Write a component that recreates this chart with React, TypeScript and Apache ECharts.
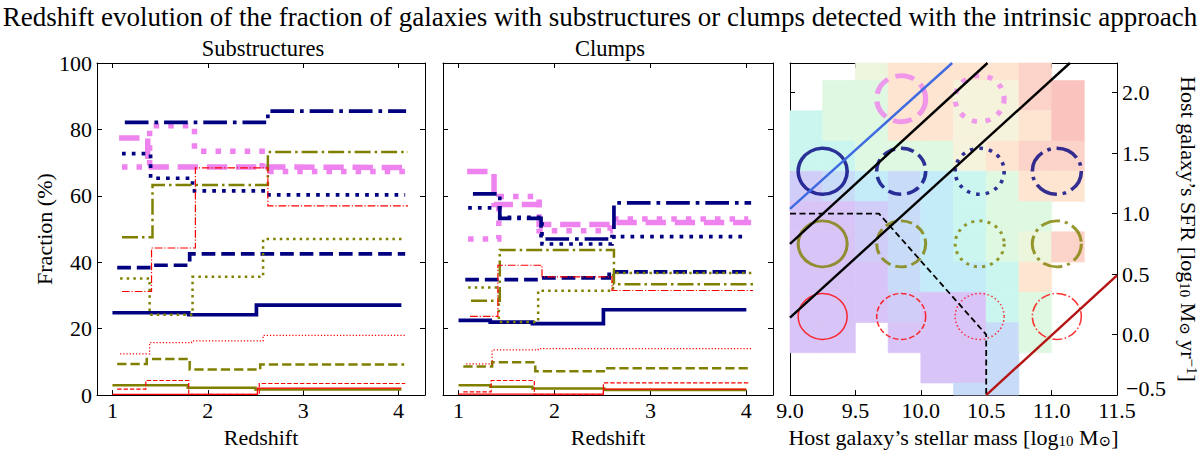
import React, { useEffect, useRef } from "react";
import * as echarts from "echarts";

const FONT = '"Liberation Serif", "DejaVu Serif", serif';
const NAVY = "#000080";
const OLIVE = "#808000";
const RED = "#ff0000";
const PINK = "#ee82ee";

// ---- Substructures panel: step points [redshift edge, fraction %] ----
const subNavySolid = [[1.0, 24.8], [1.8, 24.2], [2.51, 27.1], [4.03, 27.1]];
const subNavyDashed = [[1.05, 38.4], [1.38, 39.1], [1.81, 42.5], [4.07, 42.5]];
const subNavyDotted = [[1.1, 72.7], [1.4, 65.3], [1.84, 61.5], [2.6, 60.3], [4.07, 60.3]];
const subNavyDashDot = [[1.13, 82.1], [2.63, 85.5], [4.08, 85.5]];
const subOliveSolid = [[1.0, 3.0], [1.79, 2.2], [2.5, 1.7], [4.03, 1.7]];
const subOliveDashed = [[1.05, 9.4], [1.36, 10.9], [1.81, 7.7], [2.55, 9.2], [4.06, 9.2]];
const subOliveDotted = [[1.08, 35.1], [1.39, 24.2], [1.84, 35.6], [2.58, 47.0], [4.07, 47.0]];
const subOliveDashDot = [[1.1, 47.5], [1.42, 63.3], [2.63, 73.2], [4.1, 73.2]];
const subRedSolid = [[1.0, 0.2], [2.52, 2.1], [4.03, 2.1]];
const subRedDashed = [[1.05, 1.8], [1.35, 4.4], [1.8, 0.2], [2.54, 3.5], [4.07, 3.5]];
const subRedDotted = [[1.08, 12.4], [1.39, 15.8], [1.83, 16.3], [2.58, 18.0], [4.08, 18.0]];
const subRedDashDot = [[1.1, 31.2], [1.41, 44.3], [1.87, 68.4], [2.63, 57.0], [4.1, 57.0]];
const subPinkDashed = [[1.07, 77.4], [1.37, 68.7], [2.6, 68.5], [4.07, 68.5]];
const subPinkDotted = [[1.1, 68.7], [1.39, 81.1], [1.86, 73.4], [2.57, 67.3], [4.07, 67.3]];

// ---- Clumps panel ----
const clNavySolid = [[1.0, 22.5], [1.33, 22.0], [1.77, 21.5], [2.51, 25.7], [4.0, 25.7]];
const clNavyDashed = [[1.07, 34.8], [1.85, 35.3], [2.57, 37.1], [4.03, 37.1]];
const clNavyDotted = [[1.1, 56.4], [1.43, 53.5], [1.87, 45.5], [2.6, 47.7], [4.01, 47.7]];
const clNavyDashDot = [[1.15, 60.6], [1.43, 53.2], [1.86, 47.0], [2.62, 57.9], [4.05, 57.9]];
const clOliveSolid = [[1.0, 3.0], [1.33, 2.5], [1.77, 2.0], [2.52, 1.5], [4.0, 1.5]];
const clOliveDashed = [[1.05, 8.6], [1.35, 9.9], [1.8, 7.2], [2.53, 8.1], [4.04, 8.1]];
const clOliveDotted = [[1.1, 32.4], [1.42, 22.0], [1.83, 31.4], [2.61, 36.8], [4.07, 36.8]];
const clOliveDashDot = [[1.13, 28.4], [1.43, 43.7], [2.62, 33.4], [4.09, 33.4]];
const clRedSolid = [[1.0, 0.3], [2.51, 1.8], [4.0, 1.8]];
const clRedDashed = [[1.05, 1.0], [1.34, 4.4], [1.79, 0.1], [2.51, 3.7], [4.02, 3.7]];
const clRedDotted = [[1.08, 9.4], [1.35, 13.6], [1.83, 14.0], [4.06, 14.0]];
const clRedDashDot = [[1.12, 23.7], [1.41, 39.1], [1.87, 35.6], [2.6, 31.5], [4.07, 31.5]];
const clPinkDashed = [[1.09, 67.3], [1.37, 57.4], [1.84, 51.4], [2.6, 52.0], [4.05, 52.0]];
const clPinkDotted = [[1.1, 47.0], [1.42, 59.8], [1.84, 49.5], [2.58, 53.0], [4.02, 53.0]];

// ---- Mass-SFR panel ----
const BIN = 0.25;
const massBinLow = [9.0, 9.25, 9.5, 9.75, 10.0, 10.25, 10.5, 10.75, 11.0, 11.25];
const sfrBinLow = [2.1, 1.85, 1.6, 1.35, 1.1, 0.85, 0.6, 0.35, 0.1, -0.15, -0.4, -0.65];
const heatLevels = [
  [0, 0, 7, 9, 9, 9, 9, 10, 0, 0],
  [0, 6, 6, 9, 9, 8, 8, 10, 11, 0],
  [5, 6, 6, 9, 9, 8, 8, 9, 11, 0],
  [5, 5, 6, 6, 6, 8, 9, 10, 10, 0],
  [2, 3, 4, 3, 4, 5, 6, 9, 9, 0],
  [1, 1, 2, 3, 4, 5, 6, 6, 0, 0],
  [1, 1, 2, 3, 4, 5, 6, 7, 10, 0],
  [1, 1, 1, 3, 4, 4, 5, 9, 0, 0],
  [1, 1, 1, 2, 1, 1, 5, 6, 0, 0],
  [1, 1, 0, 1, 1, 1, 3, 6, 0, 0],
  [0, 0, 0, 0, 1, 1, 3, 0, 0, 0],
  [0, 0, 0, 0, 0, 3, 3, 0, 0, 0],
];
const heatPalette = ["none", "#d9c4f8", "#d0cdf8", "#c8dcf8", "#c4ecf8", "#cbf6f0", "#dff8e2", "#ebf6dc", "#f5f3dc", "#fde5d2", "#fcd3c8", "#fbc3be"];

const circleMass = [9.25, 9.85, 10.45, 11.04];
const pinkSfr = 1.95;
const navySfr = 1.35;
const oliveSfr = 0.75;
const redSfr = 0.15;

const blueLine = [[9.0, 1.04], [10.24, 2.245]];
const blackLineA = [[9.0, 0.75], [10.51, 2.245]];
const blackLineB = [[9.0, 0.14], [11.14, 2.245]];
const blackDashed = [[9.0, 1.0], [9.68, 1.0], [10.5, 0.0], [10.5, -0.5]];
const darkRedLine = [[10.5, -0.5], [11.5, 0.49]];

const redshiftTicks = [1, 2, 3, 4];
const fractionTicks = [0, 20, 40, 60, 80, 100];
const massTicks = [9.0, 9.5, 10.0, 10.5, 11.0, 11.5];
const sfrTicks = [-0.5, 0.0, 0.5, 1.0, 1.5, 2.0];

const WIDTHS: Record<string, number> = { navy: 3.7, olive: 2.5, red: 1.2, pink: 5.5 };
const COLORS: Record<string, string> = { navy: NAVY, olive: OLIVE, red: RED, pink: PINK };

function dash(style: string, w: number): any {
  if (style === "solid") return "solid";
  if (style === "dashed") return [3.7 * w, 1.6 * w];
  if (style === "dotted") return [w, 1.65 * w];
  return [6.4 * w, 1.6 * w, w, 1.6 * w];
}

function stepSeries(data: number[][], key: string, ls: string, xi: number, yi: number) {
  const w = WIDTHS[key];
  return {
    type: "line",
    xAxisIndex: xi,
    yAxisIndex: yi,
    data,
    step: "end",
    symbol: "none",
    silent: true,
    lineStyle: { color: COLORS[key], width: w, type: dash(ls, w), cap: "butt", join: "miter" },
  };
}

function circleSeries(mass: number, sfr: number, key: string, ls: string, w: number) {
  return {
    type: "scatter",
    xAxisIndex: 4,
    yAxisIndex: 5,
    data: [[mass, sfr]],
    symbol: "circle",
    symbolSize: [49, 46],
    silent: true,
    z: 4,
    itemStyle: { color: "rgba(0,0,0,0)", borderColor: COLORS[key], borderWidth: w, borderType: dash(ls, w) },
  };
}

function plainLine(data: number[][], color: string, width: number, type: any) {
  return {
    type: "line",
    xAxisIndex: 4,
    yAxisIndex: 5,
    data,
    symbol: "none",
    silent: true,
    z: 5,
    lineStyle: { color, width, type, cap: "butt" },
  };
}

const axisLine = { show: true, onZero: false, lineStyle: { color: "#000", width: 1 } };
function ticks(vals: number[]) {
  return { show: true, inside: true, length: 5, customValues: vals, lineStyle: { color: "#000", width: 1 } };
}
function labels(vals: number[], fmt: (v: number) => string, margin: number, extraRich?: any) {
  return { show: true, customValues: vals, formatter: fmt, fontFamily: FONT, fontSize: 22, color: "#000", margin, rich: extraRich };
}
const noLabel = { show: false };
const fmtInt = (v: number) => String(Math.round(v));
const fmt1 = (v: number) => v.toFixed(1).replace("-", "\u2212");
const fmtSfr = (v: number) => (v < -0.25 ? "{lo|" + fmt1(v) + "}" : fmt1(v));
const sfrRich = { lo: { fontFamily: FONT, fontSize: 22, color: "#000", padding: [0, 0, 14, 4] } };

const nameStyle = { fontFamily: FONT, fontSize: 22, color: "#000" };
const rich = {
  t: { fontFamily: FONT, fontSize: 22, color: "#000" },
  s: { fontFamily: FONT, fontSize: 15, color: "#000", verticalAlign: "bottom", lineHeight: 8 },
  p: { fontFamily: FONT, fontSize: 15, color: "#000", verticalAlign: "top", lineHeight: 8 },
};

export default function App() {
  const ref = useRef<HTMLDivElement>(null);
  useEffect(() => {
    document.body.style.margin = "0";
    const chart = echarts.init(ref.current!, null, { renderer: "svg" });

    const heatData: number[][] = [];
    sfrBinLow.forEach((y, r) =>
      massBinLow.forEach((x, c) => {
        const l = heatLevels[r][c];
        if (l) heatData.push([x, y, l]);
      })
    );

    const xz = { type: "value", min: 0.838, max: 4.278, splitLine: { show: false } };
    const yf = { type: "value", min: 0, max: 100, splitLine: { show: false } };
    const xm = { type: "value", min: 9.0, max: 11.5, splitLine: { show: false } };
    const ys = { type: "value", min: -0.5, max: 2.245, splitLine: { show: false } };

    const series: any[] = [];
    const panels = [
      { xi: 0, yi: 0, d: [subPinkDashed, subPinkDotted, subNavySolid, subNavyDashed, subNavyDotted, subNavyDashDot, subOliveSolid, subOliveDashed, subOliveDotted, subOliveDashDot, subRedSolid, subRedDashed, subRedDotted, subRedDashDot] },
      { xi: 2, yi: 2, d: [clPinkDashed, clPinkDotted, clNavySolid, clNavyDashed, clNavyDotted, clNavyDashDot, clOliveSolid, clOliveDashed, clOliveDotted, clOliveDashDot, clRedSolid, clRedDashed, clRedDotted, clRedDashDot] },
    ];
    const keys = ["pink", "pink", "navy", "navy", "navy", "navy", "olive", "olive", "olive", "olive", "red", "red", "red", "red"];
    const lss = ["dashed", "dotted", "solid", "dashed", "dotted", "dashdot", "solid", "dashed", "dotted", "dashdot", "solid", "dashed", "dotted", "dashdot"];
    panels.forEach((p) => p.d.forEach((d, i) => series.push(stepSeries(d, keys[i], lss[i], p.xi, p.yi))));

    series.push({
      type: "custom",
      xAxisIndex: 4,
      yAxisIndex: 5,
      data: heatData,
      silent: true,
      z: 1,
      renderItem: (params: any, api: any) => {
        const x = api.value(0);
        const y = api.value(1);
        const l = api.value(2);
        const a = api.coord([x, y + BIN]);
        const b = api.coord([x + BIN, y]);
        const cs = params.coordSys;
        const rect = echarts.graphic.clipRectByRect(
          { x: a[0], y: a[1], width: b[0] - a[0], height: b[1] - a[1] },
          { x: cs.x, y: cs.y, width: cs.width, height: cs.height }
        );
        if (!rect) return null;
        return { type: "rect", shape: rect, style: { fill: heatPalette[l], stroke: heatPalette[l], lineWidth: 0.6 } };
      },
    });

    const cw: Record<string, number> = { pink: 5, navy: 3.5, olive: 3, red: 1.5 };
    series.push(circleSeries(circleMass[1], pinkSfr, "pink", "dashed", cw.pink));
    series.push(circleSeries(circleMass[2], pinkSfr, "pink", "dotted", cw.pink));
    const rowDefs: [string, number][] = [["navy", navySfr], ["olive", oliveSfr], ["red", redSfr]];
    const styleOrder = ["solid", "dashed", "dotted", "dashdot"];
    rowDefs.forEach(([k, s]) => circleMass.forEach((m, i) => series.push(circleSeries(m, s, k, styleOrder[i], cw[k]))));

    series.push(plainLine(blueLine, "#3f6ae0", 2.4, "solid"));
    series.push(plainLine(blackLineA, "#000", 2.4, "solid"));
    series.push(plainLine(blackLineB, "#000", 2.4, "solid"));
    series.push(plainLine(blackDashed, "#000", 1.8, [6, 3.5]));
    series.push(plainLine(darkRedLine, "#b41414", 2.4, "solid"));

    chart.setOption({
      animation: false,
      grid: [
        { left: 97, top: 63, width: 328, height: 337 },
        { left: 443, top: 63, width: 330, height: 337 },
        { left: 790, top: 63, width: 327, height: 337 },
      ],
      xAxis: [
        { ...xz, gridIndex: 0, position: "bottom", axisLine, axisTick: ticks(redshiftTicks), axisLabel: labels(redshiftTicks, fmtInt, 4), name: "Redshift", nameLocation: "middle", nameGap: 27, nameTextStyle: nameStyle },
        { ...xz, gridIndex: 0, position: "top", axisLine, axisTick: ticks(redshiftTicks), axisLabel: noLabel },
        { ...xz, gridIndex: 1, position: "bottom", axisLine, axisTick: ticks(redshiftTicks), axisLabel: labels(redshiftTicks, fmtInt, 4), name: "Redshift", nameLocation: "middle", nameGap: 27, nameTextStyle: nameStyle },
        { ...xz, gridIndex: 1, position: "top", axisLine, axisTick: ticks(redshiftTicks), axisLabel: noLabel },
        {
          ...xm, gridIndex: 2, position: "bottom", axisLine, axisTick: ticks(massTicks), axisLabel: labels(massTicks, fmt1, 4),
          name: "{t|Host galaxy\u2019s stellar mass [log}{s|10}{t| M}{s|\u2299}{t|]}", nameLocation: "middle", nameGap: 27, nameTextStyle: { ...nameStyle, rich },
        },
        { ...xm, gridIndex: 2, position: "top", axisLine, axisTick: ticks(massTicks), axisLabel: noLabel },
      ],
      yAxis: [
        { ...yf, gridIndex: 0, position: "left", axisLine, axisTick: ticks(fractionTicks), axisLabel: labels(fractionTicks, fmtInt, 5), name: "Fraction (%)", nameLocation: "middle", nameGap: 42, nameTextStyle: nameStyle },
        { ...yf, gridIndex: 0, position: "right", axisLine, axisTick: ticks(fractionTicks), axisLabel: noLabel },
        { ...yf, gridIndex: 1, position: "left", axisLine, axisTick: ticks(fractionTicks), axisLabel: noLabel },
        { ...yf, gridIndex: 1, position: "right", axisLine, axisTick: ticks(fractionTicks), axisLabel: noLabel },
        { ...ys, gridIndex: 2, position: "left", axisLine, axisTick: ticks(sfrTicks), axisLabel: noLabel },
        {
          ...ys, gridIndex: 2, position: "right", axisLine, axisTick: ticks(sfrTicks), axisLabel: labels(sfrTicks, fmtSfr, 5, sfrRich),
          name: "{t|Host galaxy\u2019s SFR [log}{s|10}{t| M}{s|\u2299}{t| yr}{p|\u22121}{t|]}", nameLocation: "middle", nameGap: 60, nameRotate: -90, nameTextStyle: { ...nameStyle, rich },
        },
      ],
      graphic: [
        { type: "text", x: 600, y: 17, style: { text: "Redshift evolution of the fraction of galaxies with substructures or clumps detected with the intrinsic approach", fontFamily: FONT, fontSize: 27, fill: "#000", textAlign: "center", textVerticalAlign: "middle" } },
        { type: "text", x: 263, y: 48, style: { text: "Substructures", fontFamily: FONT, fontSize: 22.5, fill: "#000", textAlign: "center", textVerticalAlign: "middle" } },
        { type: "text", x: 610, y: 48, style: { text: "Clumps", fontFamily: FONT, fontSize: 22.5, fill: "#000", textAlign: "center", textVerticalAlign: "middle" } },
      ],
      series,
    });
    return () => chart.dispose();
  }, []);
  return <div ref={ref} style={{ width: 1200, height: 453 }} />;
}
